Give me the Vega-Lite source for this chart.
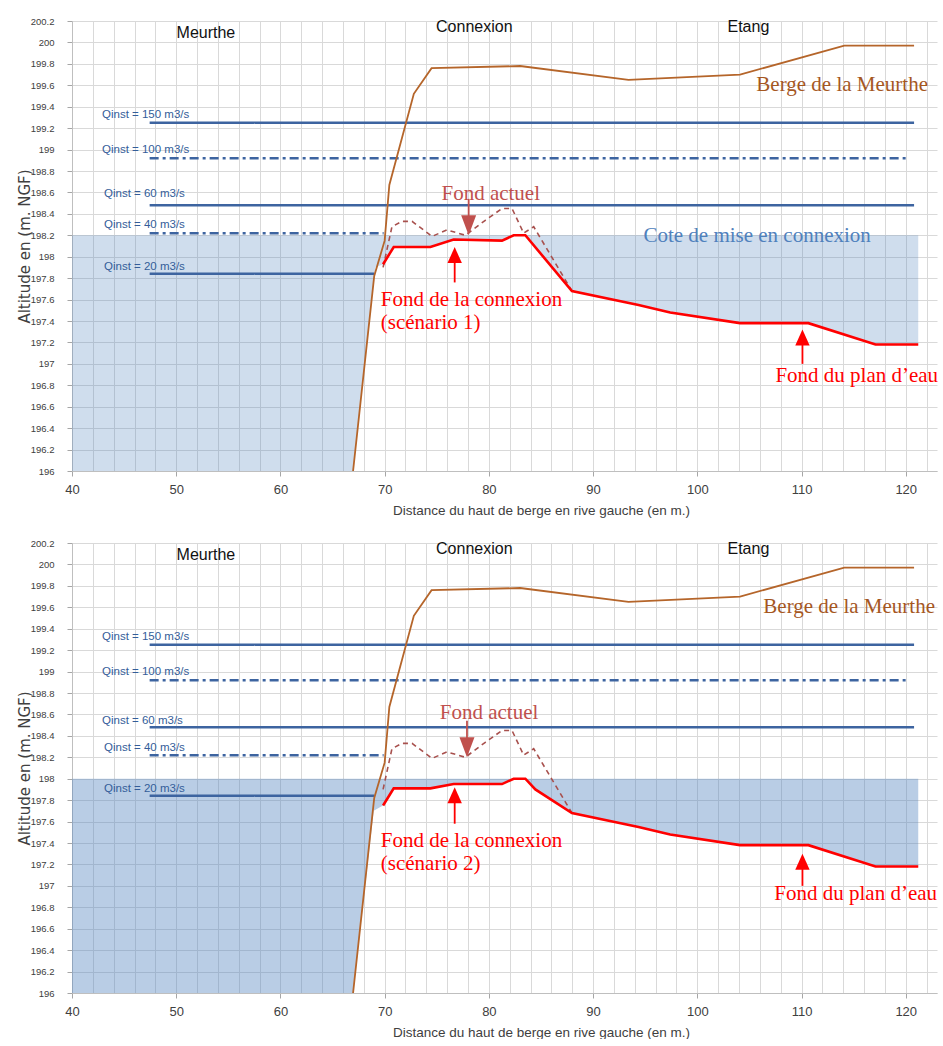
{
  "$schema": "https://vega.github.io/schema/vega-lite/v6.json",
  "background": "white",
  "padding": {"left": 17, "top": 16, "right": 0, "bottom": 0},
  "bounds": "flush",
  "spacing": 72,
  "config": {
    "view": {"stroke": null},
    "axis": {"gridColor": "#d9d9d9", "domainColor": "#bfbfbf", "tickColor": "#a6a6a6", "labelColor": "#404040", "titleColor": "#404040", "titleFontWeight": "normal"}
  },
  "datasets": {
    "bank": [
      {"x": 66.97, "y": 196}, {"x": 69.0, "y": 197.82}, {"x": 70.0, "y": 198.15}, {"x": 70.45, "y": 198.67},
      {"x": 72.8, "y": 199.52}, {"x": 74.5, "y": 199.76}, {"x": 83.0, "y": 199.78}, {"x": 93.4, "y": 199.65},
      {"x": 104.1, "y": 199.7}, {"x": 114.1, "y": 199.97}, {"x": 120.8, "y": 199.97}
    ],
    "actuel": [
      {"x": 69.85, "y": 197.9}, {"x": 70.7, "y": 198.28}, {"x": 71.67, "y": 198.33}, {"x": 72.63, "y": 198.33},
      {"x": 74.55, "y": 198.19}, {"x": 75.98, "y": 198.25}, {"x": 77.74, "y": 198.2}, {"x": 79.66, "y": 198.34},
      {"x": 81.26, "y": 198.45}, {"x": 82.22, "y": 198.45}, {"x": 83.34, "y": 198.22}, {"x": 84.3, "y": 198.28},
      {"x": 87.97, "y": 197.68}
    ],
    "red1": [
      {"x": 69.85, "y": 197.93}, {"x": 70.87, "y": 198.09}, {"x": 74.39, "y": 198.09}, {"x": 76.62, "y": 198.16},
      {"x": 81.26, "y": 198.15}, {"x": 82.38, "y": 198.2}, {"x": 83.5, "y": 198.2}, {"x": 87.97, "y": 197.68},
      {"x": 94.36, "y": 197.55}, {"x": 97.4, "y": 197.48}, {"x": 104.1, "y": 197.38}, {"x": 110.66, "y": 197.38},
      {"x": 117.1, "y": 197.18}, {"x": 121.2, "y": 197.18}
    ],
    "red2": [
      {"x": 69.85, "y": 197.75}, {"x": 70.87, "y": 197.91}, {"x": 74.39, "y": 197.91}, {"x": 76.62, "y": 197.95},
      {"x": 81.26, "y": 197.95}, {"x": 82.38, "y": 198.0}, {"x": 83.5, "y": 198.0}, {"x": 84.46, "y": 197.9},
      {"x": 87.97, "y": 197.68}, {"x": 94.36, "y": 197.55}, {"x": 97.4, "y": 197.48}, {"x": 104.1, "y": 197.38},
      {"x": 110.66, "y": 197.38}, {"x": 117.1, "y": 197.18}, {"x": 121.2, "y": 197.18}
    ],
    "fill1": [
      {"x": 40, "y": 196, "y2": 198.2}, {"x": 66.97, "y": 196, "y2": 198.2}, {"x": 69.1, "y": 197.9, "y2": 198.2},
      {"x": 69.85, "y": 197.93, "y2": 198.2}, {"x": 70.87, "y": 198.09, "y2": 198.2}, {"x": 74.39, "y": 198.09, "y2": 198.2},
      {"x": 76.62, "y": 198.16, "y2": 198.2}, {"x": 81.26, "y": 198.15, "y2": 198.2}, {"x": 82.38, "y": 198.2, "y2": 198.2},
      {"x": 83.5, "y": 198.2, "y2": 198.2}, {"x": 87.97, "y": 197.68, "y2": 198.2}, {"x": 94.36, "y": 197.55, "y2": 198.2},
      {"x": 97.4, "y": 197.48, "y2": 198.2}, {"x": 104.1, "y": 197.38, "y2": 198.2}, {"x": 110.66, "y": 197.38, "y2": 198.2},
      {"x": 117.1, "y": 197.18, "y2": 198.2}, {"x": 121.2, "y": 197.18, "y2": 198.2}
    ],
    "fill2": [
      {"x": 40, "y": 196, "y2": 198.0}, {"x": 66.97, "y": 196, "y2": 198.0}, {"x": 68.95, "y": 197.7, "y2": 198.0},
      {"x": 69.85, "y": 197.75, "y2": 198.0}, {"x": 70.87, "y": 197.91, "y2": 198.0}, {"x": 74.39, "y": 197.91, "y2": 198.0},
      {"x": 76.62, "y": 197.95, "y2": 198.0}, {"x": 81.26, "y": 197.95, "y2": 198.0}, {"x": 82.38, "y": 198.0, "y2": 198.0},
      {"x": 83.5, "y": 198.0, "y2": 198.0}, {"x": 84.46, "y": 197.9, "y2": 198.0}, {"x": 87.97, "y": 197.68, "y2": 198.0},
      {"x": 94.36, "y": 197.55, "y2": 198.0}, {"x": 97.4, "y": 197.48, "y2": 198.0}, {"x": 104.1, "y": 197.38, "y2": 198.0},
      {"x": 110.66, "y": 197.38, "y2": 198.0}, {"x": 117.1, "y": 197.18, "y2": 198.0}, {"x": 121.2, "y": 197.18, "y2": 198.0}
    ],
    "qinst": [
      {"x": 47.45, "x2": 120.8, "y": 199.25, "style": "solid"},
      {"x": 47.45, "x2": 120.25, "y": 198.92, "style": "dashdot"},
      {"x": 47.45, "x2": 120.8, "y": 198.48, "style": "solid"},
      {"x": 47.45, "x2": 69.9, "y": 198.22, "style": "dashdot"},
      {"x": 47.45, "x2": 69.0, "y": 197.84, "style": "solid"}
    ],
    "qlabels1": [
      {"text": "Qinst = 150 m3/s", "x": 42.88, "y": 199.32},
      {"text": "Qinst = 100 m3/s", "x": 42.88, "y": 199.0},
      {"text": "Qinst = 60 m3/s", "x": 43.07, "y": 198.59},
      {"text": "Qinst = 40 m3/s", "x": 43.07, "y": 198.3},
      {"text": "Qinst = 20 m3/s", "x": 43.07, "y": 197.9}
    ],
    "qlabels2": [
      {"text": "Qinst = 150 m3/s", "x": 42.88, "y": 199.32},
      {"text": "Qinst = 100 m3/s", "x": 42.88, "y": 199.0},
      {"text": "Qinst = 60 m3/s", "x": 42.88, "y": 198.54},
      {"text": "Qinst = 40 m3/s", "x": 43.07, "y": 198.29},
      {"text": "Qinst = 20 m3/s", "x": 43.07, "y": 197.9}
    ],
    "zones": [
      {"text": "Meurthe", "x": 52.85, "y": 200.085},
      {"text": "Connexion", "x": 78.6, "y": 200.147},
      {"text": "Etang", "x": 104.9, "y": 200.147}
    ],
    "notes1": [
      {"text": "Berge de la Meurthe", "kind": "berge", "x": 113.9, "y": 199.6},
      {"text": "Cote de mise en connexion", "kind": "cote", "x": 105.74, "y": 198.19},
      {"text": "Fond actuel", "kind": "actuel", "x": 80.18, "y": 198.59},
      {"text": "Fond du plan d’eau", "kind": "fond", "x": 115.3, "y": 196.89}
    ],
    "notes2": [
      {"text": "Berge de la Meurthe", "kind": "berge", "x": 114.57, "y": 199.6},
      {"text": "Fond actuel", "kind": "actuel", "x": 80.02, "y": 198.61},
      {"text": "Fond du plan d’eau", "kind": "fond", "x": 115.2, "y": 196.92}
    ],
    "left1": [
      {"text": "Fond de la connexion", "kind": "fond", "x": 69.63, "y": 197.6},
      {"text": "(scénario 1)", "kind": "fond", "x": 69.63, "y": 197.38}
    ],
    "left2": [
      {"text": "Fond de la connexion", "kind": "fond", "x": 69.63, "y": 197.42},
      {"text": "(scénario 2)", "kind": "fond", "x": 69.63, "y": 197.2}
    ],
    "arrows1": [
      {"kind": "actuel", "x": 78.06, "y": 198.54, "y2": 198.3},
      {"kind": "fond", "x": 76.72, "y": 197.76, "y2": 198.0},
      {"kind": "fond", "x": 110.09, "y": 197.0, "y2": 197.25}
    ],
    "heads1": [
      {"kind": "actuel", "dir": "down", "x": 78.06, "y": 198.293},
      {"kind": "fond", "dir": "up", "x": 76.72, "y": 198.015},
      {"kind": "fond", "dir": "up", "x": 110.09, "y": 197.245}
    ],
    "arrows2": [
      {"kind": "actuel", "x": 77.9, "y": 198.54, "y2": 198.3},
      {"kind": "fond", "x": 76.72, "y": 197.58, "y2": 197.84},
      {"kind": "fond", "x": 110.09, "y": 197.0, "y2": 197.23}
    ],
    "heads2": [
      {"kind": "actuel", "dir": "down", "x": 77.9, "y": 198.293},
      {"kind": "fond", "dir": "up", "x": 76.72, "y": 197.845},
      {"kind": "fond", "dir": "up", "x": 110.09, "y": 197.225}
    ]
  },
  "vconcat": [
    {
      "width": 865, "height": 450,
      "encoding": {
        "x": {"field": "x", "type": "quantitative", "title": "Distance du haut de berge en rive gauche (en m.)",
          "scale": {"domain": [40, 123], "nice": false, "zero": false},
          "axis": {"values": [40,42,44,46,48,50,52,54,56,58,60,62,64,66,68,70,72,74,76,78,80,82,84,86,88,90,92,94,96,98,100,102,104,106,108,110,112,114,116,118,120,122],
            "labelExpr": "datum.value % 10 === 0 ? datum.label : ''",
            "tickOpacity": {"condition": {"test": "datum.value % 10 === 0", "value": 1}, "value": 0},
            "labelFlush": false, "labelOverlap": false, "tickSize": 5, "labelPadding": 7,
            "labelFont": "Liberation Sans", "labelFontSize": 13, "titleFont": "Liberation Sans", "titleFontSize": 13.5, "titlePadding": 7, "titleX": 469}},
        "y": {"field": "y", "type": "quantitative", "title": "Altitude en (m. NGF)",
          "scale": {"domain": [196, 200.2], "nice": false, "zero": false},
          "axis": {"values": [196,196.2,196.4,196.6,196.8,197,197.2,197.4,197.6,197.8,198,198.2,198.4,198.6,198.8,199,199.2,199.4,199.6,199.8,200,200.2],
            "format": ".1~f", "labelFont": "Liberation Sans", "labelFontSize": 9.5, "tickSize": 5, "labelPadding": 13,
            "minExtent": 40, "maxExtent": 40, "titleFont": "DejaVu Sans", "titleFontSize": 15, "titlePadding": 0, "labelOverlap": false}}
      },
      "layer": [
        {"data": {"name": "fill1"}, "mark": {"type": "area", "color": "#4f81bd", "opacity": 0.27}, "encoding": {"y2": {"field": "y2"}}},
        {"data": {"name": "qinst"}, "mark": {"type": "rule", "strokeWidth": 2.5, "color": "#3d64a0"},
          "encoding": {"x2": {"field": "x2"}, "strokeDash": {"field": "style", "type": "nominal", "scale": {"domain": ["solid", "dashdot"], "range": [[1, 0], [9, 4, 3, 4]]}, "legend": null}}},
        {"data": {"name": "qlabels1"}, "mark": {"type": "text", "align": "left", "baseline": "middle", "font": "Liberation Sans", "fontSize": 11.5, "color": "#335d99"}, "encoding": {"text": {"field": "text"}}},
        {"data": {"name": "zones"}, "mark": {"type": "text", "align": "center", "baseline": "middle", "font": "Liberation Sans", "fontSize": 16, "color": "#111111"}, "encoding": {"text": {"field": "text"}}},
        {"data": {"name": "bank"}, "mark": {"type": "line", "strokeWidth": 1.8, "color": "#b5652a"}, "encoding": {}},
        {"data": {"name": "actuel"}, "mark": {"type": "line", "strokeWidth": 1.6, "color": "#a8504d", "strokeDash": [5, 4]}, "encoding": {}},
        {"data": {"name": "red1"}, "mark": {"type": "line", "strokeWidth": 2.6, "color": "#ff0000"}, "encoding": {}},
        {"data": {"name": "arrows1"}, "mark": {"type": "rule", "strokeWidth": 1.8},
          "encoding": {"y2": {"field": "y2"}, "color": {"field": "kind", "type": "nominal", "scale": {"domain": ["berge", "cote", "actuel", "fond"], "range": ["#a5571f", "#4f81bd", "#c0504d", "#ff0000"]}, "legend": null}}},
        {"data": {"name": "heads1"}, "mark": {"type": "point", "filled": true, "opacity": 1, "strokeWidth": 0},
          "encoding": {"color": {"field": "kind", "type": "nominal", "legend": null},
            "shape": {"field": "dir", "type": "nominal", "scale": {"domain": ["up", "down"], "range": ["M0,-1L0.9,1L-0.9,1Z", "M-0.75,-1L0.75,-1L0,1Z"]}, "legend": null},
            "size": {"field": "dir", "type": "nominal", "scale": {"domain": ["up", "down"], "range": [256, 400]}, "legend": null}}},
        {"data": {"name": "notes1"}, "mark": {"type": "text", "align": "center", "baseline": "middle", "font": "Liberation Serif", "fontSize": 21},
          "encoding": {"text": {"field": "text"}, "color": {"field": "kind", "type": "nominal", "legend": null}}},
        {"data": {"name": "left1"}, "mark": {"type": "text", "align": "left", "baseline": "middle", "font": "Liberation Serif", "fontSize": 21},
          "encoding": {"text": {"field": "text"}, "color": {"field": "kind", "type": "nominal", "legend": null}}}
      ]
    },
    {
      "width": 865, "height": 450,
      "encoding": {
        "x": {"field": "x", "type": "quantitative", "title": "Distance du haut de berge en rive gauche (en m.)",
          "scale": {"domain": [40, 123], "nice": false, "zero": false},
          "axis": {"values": [40,42,44,46,48,50,52,54,56,58,60,62,64,66,68,70,72,74,76,78,80,82,84,86,88,90,92,94,96,98,100,102,104,106,108,110,112,114,116,118,120,122],
            "labelExpr": "datum.value % 10 === 0 ? datum.label : ''",
            "tickOpacity": {"condition": {"test": "datum.value % 10 === 0", "value": 1}, "value": 0},
            "labelFlush": false, "labelOverlap": false, "tickSize": 5, "labelPadding": 7,
            "labelFont": "Liberation Sans", "labelFontSize": 13, "titleFont": "Liberation Sans", "titleFontSize": 13.5, "titlePadding": 7, "titleX": 469}},
        "y": {"field": "y", "type": "quantitative", "title": "Altitude en (m. NGF)",
          "scale": {"domain": [196, 200.2], "nice": false, "zero": false},
          "axis": {"values": [196,196.2,196.4,196.6,196.8,197,197.2,197.4,197.6,197.8,198,198.2,198.4,198.6,198.8,199,199.2,199.4,199.6,199.8,200,200.2],
            "format": ".1~f", "labelFont": "Liberation Sans", "labelFontSize": 9.5, "tickSize": 5, "labelPadding": 13,
            "minExtent": 40, "maxExtent": 40, "titleFont": "DejaVu Sans", "titleFontSize": 15, "titlePadding": 0, "labelOverlap": false}}
      },
      "layer": [
        {"data": {"name": "fill2"}, "mark": {"type": "area", "color": "#4f81bd", "opacity": 0.4}, "encoding": {"y2": {"field": "y2"}}},
        {"data": {"name": "qinst"}, "mark": {"type": "rule", "strokeWidth": 2.5, "color": "#3d64a0"},
          "encoding": {"x2": {"field": "x2"}, "strokeDash": {"field": "style", "type": "nominal", "scale": {"domain": ["solid", "dashdot"], "range": [[1, 0], [9, 4, 3, 4]]}, "legend": null}}},
        {"data": {"name": "qlabels2"}, "mark": {"type": "text", "align": "left", "baseline": "middle", "font": "Liberation Sans", "fontSize": 11.5, "color": "#335d99"}, "encoding": {"text": {"field": "text"}}},
        {"data": {"name": "zones"}, "mark": {"type": "text", "align": "center", "baseline": "middle", "font": "Liberation Sans", "fontSize": 16, "color": "#111111"}, "encoding": {"text": {"field": "text"}}},
        {"data": {"name": "bank"}, "mark": {"type": "line", "strokeWidth": 1.8, "color": "#b5652a"}, "encoding": {}},
        {"data": {"name": "actuel"}, "mark": {"type": "line", "strokeWidth": 1.6, "color": "#a8504d", "strokeDash": [5, 4]}, "encoding": {}},
        {"data": {"name": "red2"}, "mark": {"type": "line", "strokeWidth": 2.6, "color": "#ff0000"}, "encoding": {}},
        {"data": {"name": "arrows2"}, "mark": {"type": "rule", "strokeWidth": 1.8},
          "encoding": {"y2": {"field": "y2"}, "color": {"field": "kind", "type": "nominal", "scale": {"domain": ["berge", "cote", "actuel", "fond"], "range": ["#a5571f", "#4f81bd", "#c0504d", "#ff0000"]}, "legend": null}}},
        {"data": {"name": "heads2"}, "mark": {"type": "point", "filled": true, "opacity": 1, "strokeWidth": 0},
          "encoding": {"color": {"field": "kind", "type": "nominal", "legend": null},
            "shape": {"field": "dir", "type": "nominal", "scale": {"domain": ["up", "down"], "range": ["M0,-1L0.9,1L-0.9,1Z", "M-0.75,-1L0.75,-1L0,1Z"]}, "legend": null},
            "size": {"field": "dir", "type": "nominal", "scale": {"domain": ["up", "down"], "range": [256, 400]}, "legend": null}}},
        {"data": {"name": "notes2"}, "mark": {"type": "text", "align": "center", "baseline": "middle", "font": "Liberation Serif", "fontSize": 21},
          "encoding": {"text": {"field": "text"}, "color": {"field": "kind", "type": "nominal", "legend": null}}},
        {"data": {"name": "left2"}, "mark": {"type": "text", "align": "left", "baseline": "middle", "font": "Liberation Serif", "fontSize": 21},
          "encoding": {"text": {"field": "text"}, "color": {"field": "kind", "type": "nominal", "legend": null}}}
      ]
    }
  ]
}
